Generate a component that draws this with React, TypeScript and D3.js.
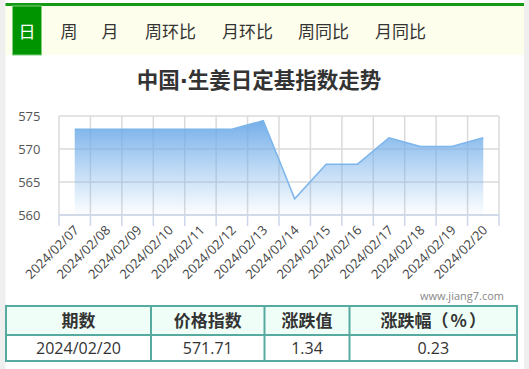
import React from "react";
import * as d3 from "d3";

const tabs = ["日", "周", "月", "周环比", "月环比", "周同比", "月同比"];
const tabCenters = [27, 69, 110, 170.5, 247.5, 323.5, 400.5];
const categories = [
  "2024/02/07", "2024/02/08", "2024/02/09", "2024/02/10", "2024/02/11",
  "2024/02/12", "2024/02/13", "2024/02/14", "2024/02/15", "2024/02/16",
  "2024/02/17", "2024/02/18", "2024/02/19", "2024/02/20",
];
const values = [
  573.0, 573.0, 573.0, 573.0, 573.0, 573.0, 574.3, 562.45, 567.7, 567.7,
  571.7, 570.37, 570.37, 571.71,
];
const yTicks = [560, 565, 570, 575];
const titleParts = ["中国", "·", "生姜日定基指数走势"];
const tableHeaders = ["期数", "价格指数", "涨跌值", "涨跌幅（%）"];
const tableRow = ["2024/02/20", "571.71", "1.34", "0.23"];
const watermark = "www.jiang7.com";

const W = 529;
const H = 369;
const plot = { left: 59, right: 499, top: 116, bottom: 215 };
const colEdges = [6, 151, 264.5, 349.5, 517];

const FONT = "'Noto Sans CJK SC', 'Open Sans', sans-serif";
const NUMFONT = "'Open Sans', 'Noto Sans CJK SC', sans-serif";

function Header({ text }: { text: string }) {
  const m = text.match(/^(.*)（(.*)）$/);
  if (!m) return <>{text}</>;
  return (
    <>
      {m[1]}
      <tspan>（</tspan>
      <tspan dx={2}>{m[2]}</tspan>
      <tspan dx={2}>）</tspan>
    </>
  );
}

export default function App() {
  const x = d3
    .scaleBand<string>()
    .domain(categories)
    .range([plot.left, plot.right])
    .paddingInner(0)
    .paddingOuter(0);
  const y = d3.scaleLinear().domain([560, 575]).range([plot.bottom, plot.top]);
  const cx = (c: string) => (x(c) as number) + x.bandwidth() / 2;

  const area = d3
    .area<number>()
    .x((_, i) => cx(categories[i]))
    .y0(y(560))
    .y1((d) => y(d));
  const line = d3
    .line<number>()
    .x((_, i) => cx(categories[i]))
    .y((d) => y(d));

  const boundaries = categories.map((c) => x(c) as number).concat([plot.right]);

  return (
    <div style={{ position: "fixed", left: 0, top: 0, width: W, height: H, background: "#fff" }}>
      <svg width={W} height={H} style={{ display: "block" }} fontFamily={FONT}>
        <defs>
          <linearGradient id="fillGrad" x1="0" y1="0" x2="0" y2="1">
            <stop offset="0" stopColor="#6eaae8" stopOpacity={0.95} />
            <stop offset="1" stopColor="#7cb5ec" stopOpacity={0.02} />
          </linearGradient>
        </defs>
        {/* page side strips */}
        <rect x={0} y={0} width={5.5} height={H} fill="#efefef" />
        <rect x={524} y={0} width={5} height={H} fill="#efefef" />
        {/* green top line */}
        <rect x={5.5} y={3} width={518.5} height={3} fill="#149a14" />
        {/* tab bar */}
        <rect x={5.5} y={6} width={518.5} height={49} fill="#fefeec" />
        <rect x={12.5} y={6} width={29} height={49} fill="#009400" stroke="#7fd07f" strokeWidth={1} />
        {tabs.map((t, i) => (
          <text
            key={t}
            x={tabCenters[i]}
            y={37.5}
            textAnchor="middle"
            fontSize={17}
            fill={i === 0 ? "#ffffff" : "#333333"}
          >
            {t}
          </text>
        ))}
        {/* title */}
        <text x={259} y={88} textAnchor="middle" fontSize={21.5} fontWeight="bold" fill="#333333">
          {titleParts[0]}
          <tspan fontFamily="'DejaVu Sans', sans-serif">{titleParts[1]}</tspan>
          {titleParts[2]}
        </text>
        {/* horizontal grid */}
        {yTicks.map((t) => (
          <line key={"h" + t} x1={plot.left} x2={plot.right} y1={y(t)} y2={y(t)} stroke="#dadada" strokeWidth={1.5} />
        ))}
        {/* vertical grid */}
        {boundaries.map((b, i) => (
          <line key={"v" + i} x1={b} x2={b} y1={plot.top} y2={plot.bottom} stroke="#dadada" strokeWidth={1.5} />
        ))}
        {/* area + line */}
        <path d={area(values) || ""} fill="url(#fillGrad)" />
        <path d={line(values) || ""} fill="none" stroke="#7cb5ec" strokeWidth={1.5} />
        {/* x axis line + ticks */}
        <line x1={plot.left} x2={plot.right} y1={plot.bottom} y2={plot.bottom} stroke="#ccd6eb" strokeWidth={1.5} />
        {boundaries.map((b, i) => (
          <line key={"t" + i} x1={b} x2={b} y1={plot.bottom} y2={plot.bottom + 11} stroke="#ccd6eb" strokeWidth={1.5} />
        ))}
        {/* y labels */}
        {yTicks.map((t) => (
          <text key={"yl" + t} x={40.5} y={y(t) + 4.5} textAnchor="end" fontSize={13} fill="#555555" fontFamily={NUMFONT}>
            {t}
          </text>
        ))}
        {/* x labels */}
        {categories.map((c) => (
          <text
            key={"xl" + c}
            transform={`translate(${cx(c) + 5},${plot.bottom + 16}) rotate(-45)`}
            textAnchor="end"
            fontSize={13}
            fill="#444444"
            fontFamily={NUMFONT}
          >
            {c}
          </text>
        ))}
        {/* watermark */}
        <text x={504} y={300} textAnchor="end" fontSize={11} fill="#888888" fontFamily={NUMFONT}>
          {watermark}
        </text>
        {/* table */}
        <rect x={colEdges[0]} y={306} width={colEdges[4] - colEdges[0]} height={29} fill="#effff8" />
        <rect x={colEdges[0]} y={335} width={colEdges[4] - colEdges[0]} height={26} fill="#ffffff" />
        <rect
          x={colEdges[0]}
          y={306}
          width={colEdges[4] - colEdges[0]}
          height={55}
          fill="none"
          stroke="#56aaa0"
          strokeWidth={2}
        />
        <line x1={colEdges[0]} x2={colEdges[4]} y1={335} y2={335} stroke="#56aaa0" strokeWidth={2} />
        {colEdges.slice(1, 4).map((e) => (
          <line key={"c" + e} x1={e} x2={e} y1={306} y2={361} stroke="#56aaa0" strokeWidth={2} />
        ))}
        {tableHeaders.map((h, i) => (
          <text
            key={"th" + i}
            x={(colEdges[i] + colEdges[i + 1]) / 2}
            y={327}
            textAnchor="middle"
            fontSize={17}
            fontWeight="bold"
            fill="#333333"
          >
            <Header text={h} />
          </text>
        ))}
        {tableRow.map((v, i) => (
          <text
            key={"td" + i}
            x={(colEdges[i] + colEdges[i + 1]) / 2}
            y={354}
            textAnchor="middle"
            fontSize={16}
            fill="#333333"
            fontFamily={NUMFONT}
          >
            {v}
          </text>
        ))}
      </svg>
    </div>
  );
}
